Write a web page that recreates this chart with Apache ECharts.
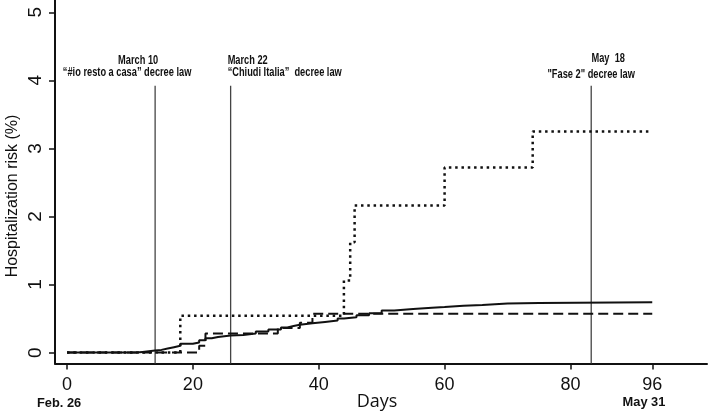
<!DOCTYPE html>
<html>
<head>
<meta charset="utf-8">
<script src="https://cdn.jsdelivr.net/npm/echarts@6/dist/echarts.min.js"></script>
<style>html,body{margin:0;padding:0;background:#fff}#c{width:709px;height:416px}</style>
</head>
<body>
<div id="c"></div>
<script>
// ---- data ----
const solidDays = [0, 11, 12, 13, 14, 15, 16, 17, 18, 20, 21, 22, 23, 24, 25, 26, 28, 30, 32, 34, 35, 36, 37, 39, 41, 43, 44, 46, 48, 50, 52, 55, 58, 60, 63, 66, 70, 75, 93];
const solidRisk = [0, 0.01, 0.02, 0.03, 0.04, 0.06, 0.08, 0.10, 0.13, 0.15, 0.18, 0.21, 0.23, 0.24, 0.25, 0.26, 0.28, 0.31, 0.34, 0.37, 0.39, 0.41, 0.43, 0.45, 0.47, 0.50, 0.52, 0.55, 0.58, 0.62, 0.64, 0.66, 0.67, 0.69, 0.70, 0.72, 0.73, 0.74, 0.74];
const dashDays = [0, 21, 22, 33.5, 37, 39, 93];
const dashRisk = [0, 0.10, 0.28, 0.36, 0.44, 0.57, 0.57];
const dotDays = [0, 18, 44, 45, 45.7, 60, 74, 92.5];
const dotRisk = [0, 0.54, 1.06, 1.62, 2.16, 2.72, 3.25, 3.25];

const eventDays = [14, 26, 83.3];
const eventDates = ['March 10', 'March 22', 'May  18'];
const eventLaws = ['\u201c#io resto a casa\u201d decree law', '\u201cChiudi Italia\u201d  decree law', '"Fase 2" decree law'];

const xTickValues = [0, 20, 40, 60, 80, 93];
const xTickLabels = ['0', '20', '40', '60', '80', '96'];
const yTickValues = [0, 1, 2, 3, 4, 5];
const xStartLabel = 'Feb. 26';
const xEndLabel = 'May 31';
const xName = 'Days';
const yName = 'Hospitalization risk (%)';

const xMin = -1.91, xMax = 101.7, yMin = -0.16, yMax = 5.18;
const eventTop = 3.92;

const pairs = (xs, ys) => xs.map((x, i) => [x, ys[i]]);
const annFont = '"Liberation Sans", Arial, sans-serif';

const chart = echarts.init(document.getElementById('c'));
const series = [
  { type: 'line', step: 'end', data: pairs(solidDays, solidRisk), showSymbol: false, lineStyle: { color: '#111', width: 2 }, z: 5 },
  { type: 'line', step: 'end', data: pairs(dashDays, dashRisk), showSymbol: false, lineStyle: { color: '#111', width: 2, type: [10, 5] }, z: 4 },
  { type: 'line', step: 'end', data: pairs(dotDays, dotRisk), showSymbol: false, lineStyle: { color: '#111', width: 2.5, type: [2.5, 3.8] }, z: 4 }
];
eventDays.forEach(d => {
  series.push({ type: 'line', data: [[d, yMin], [d, eventTop]], showSymbol: false, silent: true, lineStyle: { color: '#444', width: 1.3 }, z: 3 });
});

chart.setOption({
  animation: false,
  grid: { left: 55, right: 2, top: 0, bottom: 52.5 },
  xAxis: {
    type: 'value', min: xMin, max: xMax,
    axisLine: { show: true, onZero: false, lineStyle: { color: '#111', width: 2 } },
    axisTick: { show: true, customValues: xTickValues, length: 6, lineStyle: { color: '#111', width: 1.5 } },
    axisLabel: { customValues: xTickValues, formatter: v => xTickLabels[xTickValues.indexOf(v)], margin: 13, color: '#111', fontSize: 18, fontFamily: 'Liberation Sans, Arial, sans-serif' },
    splitLine: { show: false }
  },
  yAxis: {
    type: 'value', min: yMin, max: yMax,
    axisLine: { show: true, onZero: false, lineStyle: { color: '#111', width: 2 } },
    axisTick: { show: true, customValues: yTickValues, length: 6, lineStyle: { color: '#111', width: 1.5 } },
    axisLabel: { show: false, customValues: yTickValues },
    splitLine: { show: false }
  },
  series: series
});

const px = d => chart.convertToPixel({ xAxisIndex: 0 }, d);
const py = v => chart.convertToPixel({ yAxisIndex: 0 }, v);
const graphics = [];
// rotated y tick labels
yTickValues.forEach(v => {
  graphics.push({ type: 'text', x: 36, y: py(v), rotation: Math.PI / 2, style: { text: String(v), font: '19px "Liberation Sans", Arial, sans-serif', fill: '#111', align: 'center', verticalAlign: 'middle' } });
});
// axis names
graphics.push({ type: 'text', x: 13, y: 196, rotation: Math.PI / 2, style: { text: yName, font: '16px "Liberation Sans", Arial, sans-serif', fill: '#111', align: 'center', verticalAlign: 'middle' } });
graphics.push({ type: 'text', x: 377, y: 402, style: { text: xName, font: '18px "Open Sans", "Liberation Sans", sans-serif', fill: '#111', align: 'center', verticalAlign: 'middle' } });
graphics.push({ type: 'text', x: 37, y: 403, scaleX: 0.95, style: { text: xStartLabel, font: 'bold 13.5px ' + annFont, fill: '#111', align: 'left', verticalAlign: 'middle' } });
graphics.push({ type: 'text', x: 644, y: 402, scaleX: 0.95, style: { text: xEndLabel, font: 'bold 13.5px ' + annFont, fill: '#111', align: 'center', verticalAlign: 'middle' } });
// event annotations
const annSpec = [
  { dx1: -17, y1: 61, a1: 'center', dx2: -28, y2: 73, a2: 'center' },
  { dx1: -3, y1: 61, a1: 'left', dx2: -3, y2: 73, a2: 'left' },
  { dx1: 17, y1: 59, a1: 'center', dx2: 0, y2: 75, a2: 'center' }
];
eventDays.forEach((d, i) => {
  const x = px(d), s = annSpec[i];
  graphics.push({ type: 'text', x: x + s.dx1, y: s.y1, scaleX: 0.74, style: { text: eventDates[i], font: 'bold 12.5px ' + annFont, fill: '#111', align: s.a1, verticalAlign: 'middle' } });
  graphics.push({ type: 'text', x: x + s.dx2, y: s.y2, scaleX: 0.74, style: { text: eventLaws[i], font: 'bold 12.5px ' + annFont, fill: '#111', align: s.a2, verticalAlign: 'middle' } });
});
chart.setOption({ graphic: graphics });
</script>
</body>
</html>
